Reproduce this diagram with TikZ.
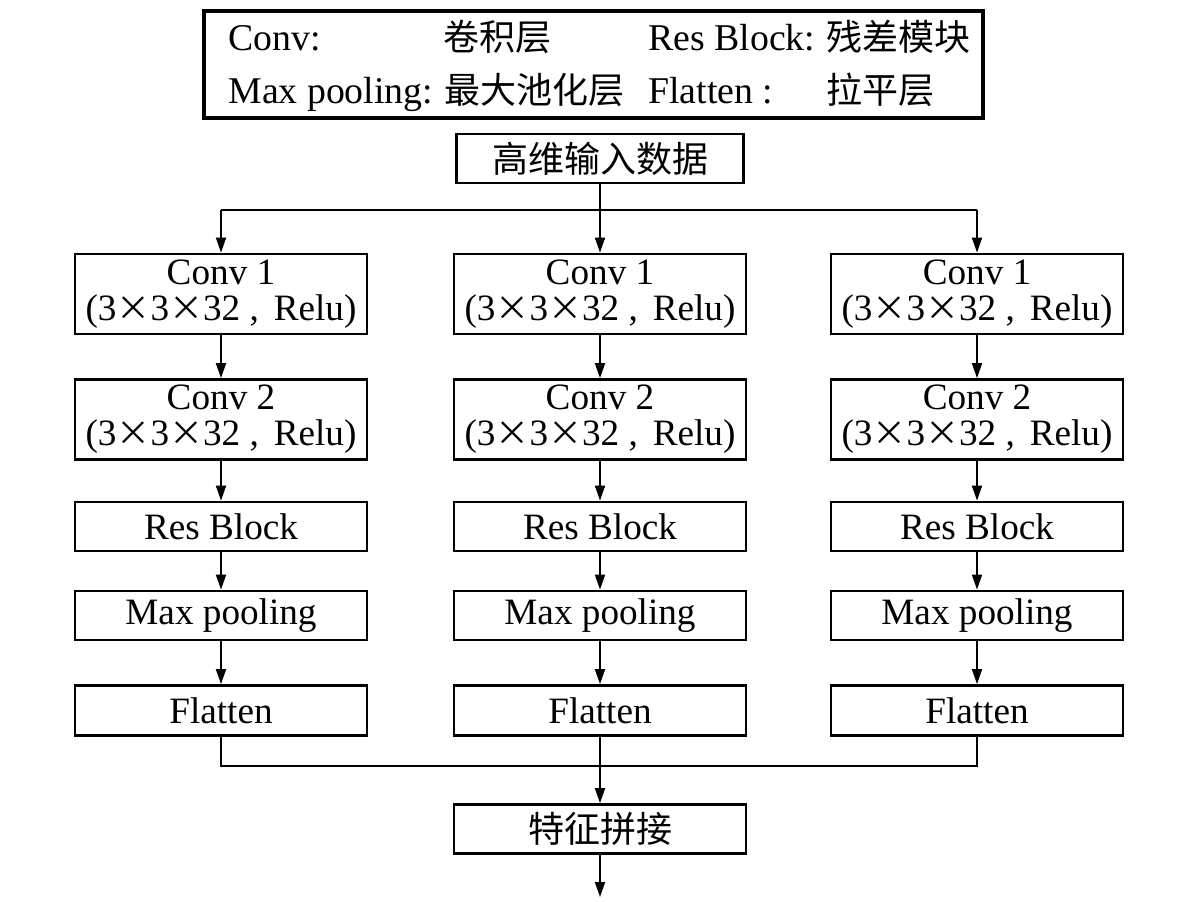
\documentclass[tikz,border=0pt]{standalone}
\usepackage{fontspec}
\setmainfont{Liberation Serif}
\newfontfamily\cjk{Noto Sans CJK SC}
\usetikzlibrary{arrows.meta}
\newcommand{\mtimes}{{\fontsize{17}{17}\selectfont\cjk ×}}
\newcommand{\convline}{(3\mtimes3\mtimes32\hspace{0.25em},\hspace{0.4em}Relu)}
\newcommand{\zh}{\fontsize{18}{18}\selectfont\cjk}
\begin{document}
\begin{tikzpicture}[x=0.5pt,y=-0.5pt,
  box/.style={draw,line width=1.4pt,inner sep=0pt,minimum width=146pt,
    font=\fontsize{18.6}{18}\selectfont,align=center},
  onebox/.style={box,minimum height=24.5pt},
  twobox/.style={box,minimum height=40pt},
  conn/.style={line width=0.9pt},
  arr/.style={conn,-{Triangle[length=7.5pt,width=5pt]}},
  lt/.style={anchor=base west,inner sep=0pt,font=\fontsize{18.9}{19}\selectfont}]
\useasboundingbox (0,0) rectangle (1200,901);
\fill[white] (0,0) rectangle (1200,901);

% legend
\node[draw,line width=1.6pt,minimum width=389.5pt,minimum height=53.5pt,inner sep=0pt] (leg) at (593.5,64.5) {};
\node[lt] (la) at (228,50) {Conv:};
\node[lt] (lb) at (443,50) {\zh 卷积层};
\node[lt] (lc) at (648,50) {Res Block:};
\node[lt] (ld) at (826,50) {\zh 残差模块};
\node[lt] (le) at (228,103) {Max pooling:};
\node[lt] (lf) at (444,103) {\zh 最大池化层};
\node[lt] (lg) at (648,103) {Flatten :};
\node[lt] (lh) at (826,103) {\zh 拉平层};

% input
\node[onebox,minimum width=143.5pt] (in) at (600,158.5) {\zh 高维输入数据};
\coordinate (b) at (600,210);

% columns
\foreach \c/\x in {L/221,M/600,R/977}{
  \node[twobox] (\c1) at (\x,294) {Conv 1\\\convline};
  \node[twobox] (\c2) at (\x,419.5) {Conv 2\\\convline};
  \node[onebox] (\c3) at (\x,526.5) {Res Block};
  \node[onebox] (\c4) at (\x,615.5) {Max pooling};
  \node[onebox,minimum height=25pt] (\c5) at (\x,710.5) {Flatten};
  \draw[arr] (\c1) -- (\c2);
  \draw[arr] (\c2) -- (\c3);
  \draw[arr] (\c3) -- (\c4);
  \draw[arr] (\c4) -- (\c5);
}

\draw[conn] (L1.north |- b) -- (R1.north |- b);
\draw[arr] (in) -- (M1);
\draw[arr] (L1.north |- b) -- (L1.north);
\draw[arr] (R1.north |- b) -- (R1.north);

% merge
\coordinate (m) at (600,766);
\node[onebox] (cat) at (600,829) {\zh 特征拼接};
\coordinate (out) at (600,897);
\draw[conn] (L5.south) -- (L5.south |- m) -- (R5.south |- m) -- (R5.south);
\draw[arr] (M5) -- (cat);
\draw[arr] (cat) -- (out);
\end{tikzpicture}
\end{document}
